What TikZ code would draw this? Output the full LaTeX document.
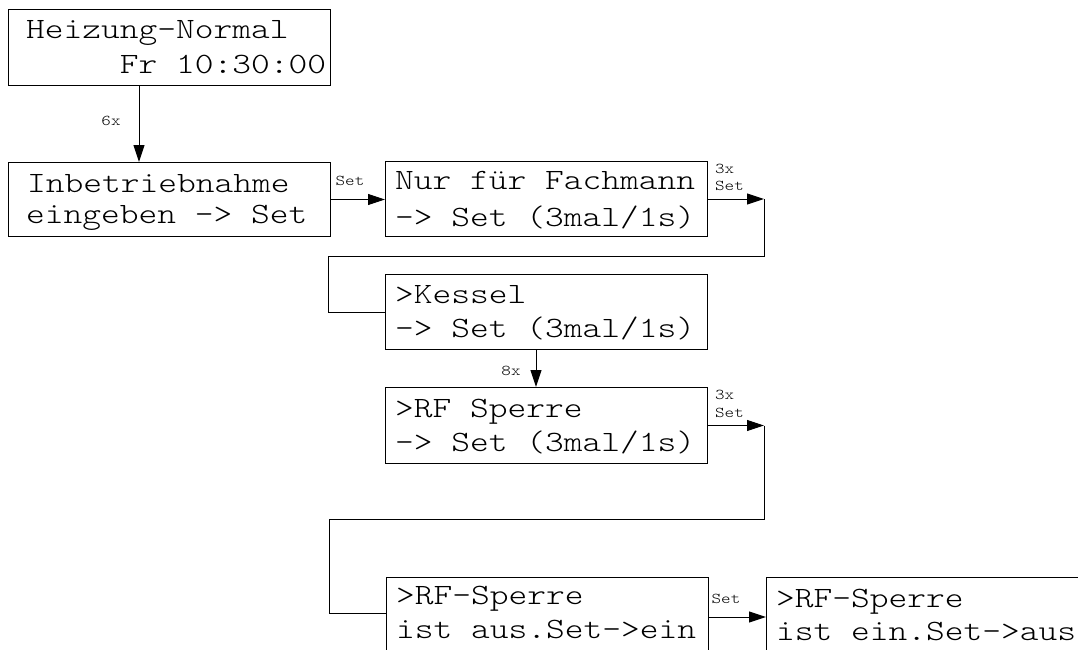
\documentclass[tikz,border=0pt]{standalone}
\usepackage{fontspec}
\newfontfamily\lcdfont[FakeStretch=1.21]{Latin Modern Mono Light}
\usetikzlibrary{arrows.meta,calc}
\begin{document}
\begin{tikzpicture}[x=1pt,y=-1pt,
  lcd/.style={draw, line width=1pt, minimum width=322pt, anchor=north west, inner sep=0pt},
  lcdtext/.style={anchor=base west, inner sep=0pt, font=\fontsize{29.5}{34}\selectfont\lcdfont},
  lbl/.style={inner sep=0pt, font=\fontsize{15}{17}\selectfont\lcdfont},
  conn/.style={line width=1pt},
  arr/.style={conn, -{Triangle[length=17pt,width=11pt]}}]
\useasboundingbox (0,0) rectangle (1078,650);
\clip (0,0) rectangle (1078,650);

% boxes
\node[lcd, minimum height=76pt] (b1) at (8,9) {};
\node[lcd, minimum height=74pt] (b2) at (8,162) {};
\node[lcd, minimum height=75pt] (b3) at (385,161) {};
\node[lcd, minimum height=75pt] (b4) at (385,274) {};
\node[lcd, minimum height=76pt] (b5) at (385,387) {};
\node[lcd, minimum height=80pt] (b6) at (386,577) {};
\node[lcd, minimum height=80pt] (b7) at (766,577) {};

% texts
\node[lcdtext] (t1a) at ($(b1.north west)+(18,30)$) {Heizung-Normal};
\node[lcdtext] (t1b) at ($(b1.north west)+(18,65)$) {\phantom{Heizu}Fr 10:30:00};
\node[lcdtext] (t2a) at ($(b2.north west)+(19,30)$) {Inbetriebnahme};
\node[lcdtext] (t2b) at ($(b2.north west)+(18,61)$) {eingeben -> Set};
\node[lcdtext] (t3a) at ($(b3.north west)+(10,28)$) {Nur für Fachmann};
\node[lcdtext] (t3b) at ($(b3.north west)+(10,65)$) {-> Set (3mal/1s)};
\node[lcdtext] (t4a) at ($(b4.north west)+(10,29)$) {>Kessel};
\node[lcdtext] (t4b) at ($(b4.north west)+(10,63)$) {-> Set (3mal/1s)};
\node[lcdtext] (t5a) at ($(b5.north west)+(10,30)$) {>RF Sperre};
\node[lcdtext] (t5b) at ($(b5.north west)+(10,64)$) {-> Set (3mal/1s)};
\node[lcdtext] (t6a) at ($(b6.north west)+(10,27)$) {>RF-Sperre};
\node[lcdtext] (t6b) at ($(b6.north west)+(10,61)$) {ist aus.Set->ein};
\node[lcdtext] (t7a) at ($(b7.north west)+(10,30)$) {>RF-Sperre};
\node[lcdtext] (t7b) at ($(b7.north west)+(10,63)$) {ist ein.Set->aus};

% connector helper coordinates
\coordinate (c1) at ($(b3.east)+(56,0)$);
\coordinate (c2) at (328,256);
\coordinate (c3) at ($(b5.east)+(56,0)$);
\coordinate (c4) at (329,519);

% connectors
\draw[arr] ($(b1.south west)+(131,0)$) -- ($(b2.north west)+(131,0)$);
\draw[arr] (b2.east) -- (b2.east -| b3.west);
\draw[arr] (b3.east) -- (c1);
\draw[conn] (c1) |- (c2) |- (b4.west);
\draw[arr] ($(b4.south west)+(151,0)$) -- ($(b5.north west)+(151,0)$);
\draw[arr] (b5.east) -- (c3);
\draw[conn] (c3) |- (c4) |- ($(b6.north west)+(0,36)$);
\draw[arr] ($(b6.north east)+(0,40)$) -- ($(b7.north west)+(0,40)$);

% labels
\node[lbl] (l1) at (111,121) {6x};
\node[lbl] (l2) at (350,181) {Set};
\node[lbl, anchor=west] (l3a) at (715,169) {3x};
\node[lbl, anchor=west] (l3b) at (715,186) {Set};
\node[lbl] (l4) at (511,371) {8x};
\node[lbl, anchor=west] (l5a) at (715,395) {3x};
\node[lbl, anchor=west] (l5b) at (715,413) {Set};
\node[lbl] (l6) at (726,599) {Set};
\end{tikzpicture}
\end{document}
